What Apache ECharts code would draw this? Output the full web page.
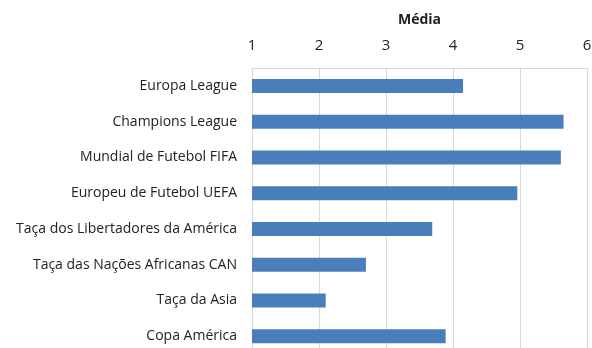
<!DOCTYPE html>
<html>
<head>
<meta charset="utf-8">
<script src="https://cdn.jsdelivr.net/npm/echarts@6/dist/echarts.min.js"></script>
<style>
html,body{margin:0;padding:0;background:#fff;}
#chart{width:592px;height:348px;}
</style>
</head>
<body>
<div id="chart"></div>
<script>
// competições (de cima para baixo)
var categorias = ["Europa League", "Champions League", "Mundial de Futebol FIFA", "Europeu de Futebol UEFA",
    "Taça dos Libertadores da América", "Taça das Nações Africanas CAN", "Taça da Asia", "Copa América"];
var media = [4.15, 5.65, 5.61, 4.96, 3.69, 2.70, 2.10, 3.89];
var tituloEixo = "Média";

var myChart = echarts.init(document.getElementById("chart"));
myChart.setOption({
    animation: false,
    textStyle: {fontFamily: "Open Sans"},
    grid: {left: 252, right: 5, top: 68, height: 286, outerBoundsMode: "none"},
    xAxis: {
        type: "value",
        position: "top",
        min: 1, max: 6, interval: 1,
        name: tituloEixo,
        nameLocation: "middle",
        nameGap: 41,
        nameTextStyle: {fontWeight: "bold", fontSize: 14, color: "#222"},
        axisLine: {show: true, lineStyle: {color: "#d9d9d9"}},
        axisTick: {show: false},
        axisLabel: {fontSize: 15, color: "#222", margin: 15},
        splitLine: {show: true, lineStyle: {color: "#d9d9d9"}}
    },
    yAxis: {
        type: "category",
        inverse: true,
        data: categorias,
        axisLine: {show: true, lineStyle: {color: "#d9d9d9"}},
        axisTick: {show: false},
        axisLabel: {fontSize: 14, color: "#222", margin: 15}
    },
    series: [{
        type: "bar",
        data: media,
        barWidth: 14,
        itemStyle: {color: "#4a7ebb"}
    }]
});
</script>
</body>
</html>
